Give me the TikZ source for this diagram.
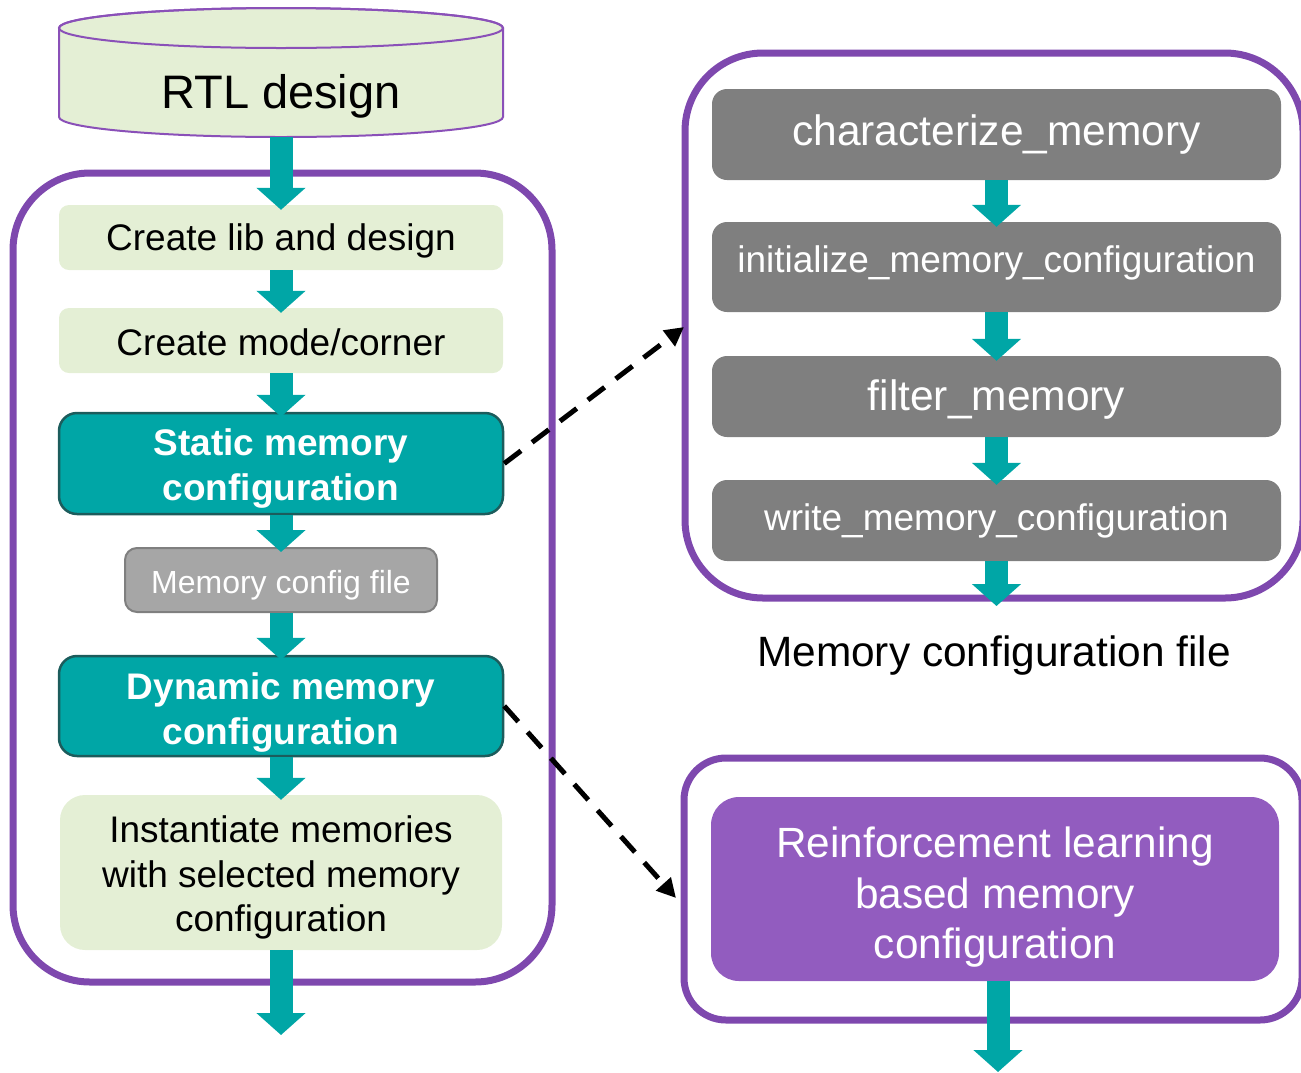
\documentclass[tikz,border=0pt]{standalone}
\usepackage{fontspec}
\setmainfont{Liberation Sans}
\usetikzlibrary{arrows.meta}
\definecolor{myteal}{RGB}{0,166,166}
\definecolor{darkteal}{RGB}{28,92,92}
\definecolor{framepurple}{RGB}{126,72,174}
\definecolor{cylpurple}{RGB}{138,80,184}
\definecolor{lgreen}{RGB}{228,239,213}
\definecolor{boxgray}{RGB}{127,127,127}
\definecolor{lightgray2}{RGB}{166,166,166}
\definecolor{rlpurple}{RGB}{146,92,191}
\newcommand{\vpush}[1]{\rule{0pt}{\dimexpr0.73em+#1\relax}}
\begin{document}
\begin{tikzpicture}[x=1pt,y=-1pt,
  frame/.style={draw=framepurple, line width=7pt},
  flow/.style={draw=myteal, line width=23pt, -{Triangle[width=48pt,length=22pt]}, shorten >=-5pt},
  dasharrow/.style={draw=black, line width=5pt, dash pattern=on 21pt off 14pt, -{Triangle[width=19pt,length=19pt]}},
  tdown/.style={execute at begin node={\rule{0pt}{\dimexpr0.73em+#1\relax}}},
  tup/.style={execute at end node={\rule[-\dimexpr0.21em+#1\relax]{0pt}{\dimexpr0.21em+#1\relax}}},
  box/.style={rectangle, inner sep=0pt, align=center},
  greenbox/.style={box, fill=lgreen, rounded corners=10pt, minimum width=444pt, font=\fontsize{37}{44.5}\selectfont},
  tealbox/.style={box, fill=myteal, draw=darkteal, line width=2.5pt, rounded corners=18pt, minimum width=444pt, minimum height=100pt, text=white, font=\bfseries\fontsize{37}{45}\selectfont},
  graybox/.style={box, fill=boxgray, rounded corners=15pt, minimum width=569pt, text=white},
]
\useasboundingbox (0,0) rectangle (1301,1072);

% frames
\draw[frame, rounded corners=77pt] (13,173) rectangle (552,982);
\draw[frame, rounded corners=78pt] (685,53) rectangle (1303,598);
\draw[frame, rounded corners=42pt] (684,758) rectangle (1302,1020);

% RTL design cylinder
\path[fill=lgreen, draw=cylpurple, line width=2pt]
  (59,28) -- (59,117) arc[start angle=180, end angle=360, x radius=222pt, y radius=20pt]
  -- (503,28) arc[start angle=0, end angle=180, x radius=222pt, y radius=20pt] -- cycle;
\draw[cylpurple, line width=2pt] (281,28) ellipse [x radius=222pt, y radius=20pt];
\node[tdown=8pt, font=\fontsize{47}{47}\selectfont] (rtl) at (281,92) {RTL design};
\coordinate (rtlb) at (281,137);

% left flow
\node[greenbox, tdown=6pt, minimum height=65pt] (lib) at (281,237.5) {Create lib and design};
\node[greenbox, tdown=4pt, minimum height=65pt] (mode) at (281,340.5) {Create mode/corner};
\node[tealbox, minimum height=101pt] (static) at (281,463.5) {\vpush{10pt}Static memory\\configuration};
\node[box, tdown=10pt, fill=lightgray2, draw=boxgray, line width=2pt, rounded corners=12pt, minimum width=312pt, minimum height=64pt, text=white, font=\fontsize{32}{38}\selectfont] (mcf) at (281,580) {Memory config file};
\node[tealbox] (dyn) at (281,706) {\vpush{12pt}Dynamic memory\\configuration};
\node[greenbox, rounded corners=25pt, minimum width=442pt, minimum height=155pt] (inst) at (281,872.5) {\vpush{10pt}Instantiate memories\\with selected memory\\configuration};
\coordinate (out1) at (281,1030);

\draw[flow] (rtlb) -- (lib.north);
\draw[flow] (lib.south) -- (mode.north);
\draw[flow] (mode.south) -- (static.north);
\draw[flow] (static.south) -- (mcf.north);
\draw[flow] (mcf.south) -- (dyn.north);
\draw[flow] (dyn.south) -- (inst.north);
\draw[flow] (inst.south) -- (out1);

% right top flow
\node[graybox, minimum height=91pt, font=\fontsize{42.5}{50}\selectfont] (cm) at (996.5,134.5) {characterize\_memory};
\node[graybox, tup=8pt, minimum height=90pt, font=\fontsize{37}{44}\selectfont] (imc) at (996.5,267) {initialize\_memory\_configuration};
\node[graybox, tdown=5pt, minimum height=81pt, font=\fontsize{42.5}{50}\selectfont] (fm) at (996.5,396.5) {filter\_memory};
\node[graybox, minimum height=81pt, font=\fontsize{37}{44}\selectfont] (wmc) at (996.5,520.5) {write\_memory\_configuration};
\coordinate (out2) at (996.5,601);
\draw[flow] (cm.south) -- (imc.north);
\draw[flow] (imc.south) -- (fm.north);
\draw[flow] (fm.south) -- (wmc.north);
\draw[flow] (wmc.south) -- (out2);
\node[tdown=8pt, font=\fontsize{42.4}{50}\selectfont] (mcflabel) at (994,651) {Memory configuration file};

% right bottom
\node[box, fill=rlpurple, rounded corners=28pt, minimum width=568pt, minimum height=184pt, text=white, font=\fontsize{42.3}{50.5}\selectfont] (rl) at (995,889) {\vpush{16pt}Reinforcement learning\\based memory\\configuration};
\coordinate (out3) at (998,1067);
\draw[flow] ([xshift=3pt]rl.south) -- (out3);

% dashed links
\coordinate (t1) at (684,327);
\coordinate (t2) at (676,898);
\draw[dasharrow] (static.east) -- (t1);
\draw[dasharrow] (dyn.east) -- (t2);
\end{tikzpicture}
\end{document}
